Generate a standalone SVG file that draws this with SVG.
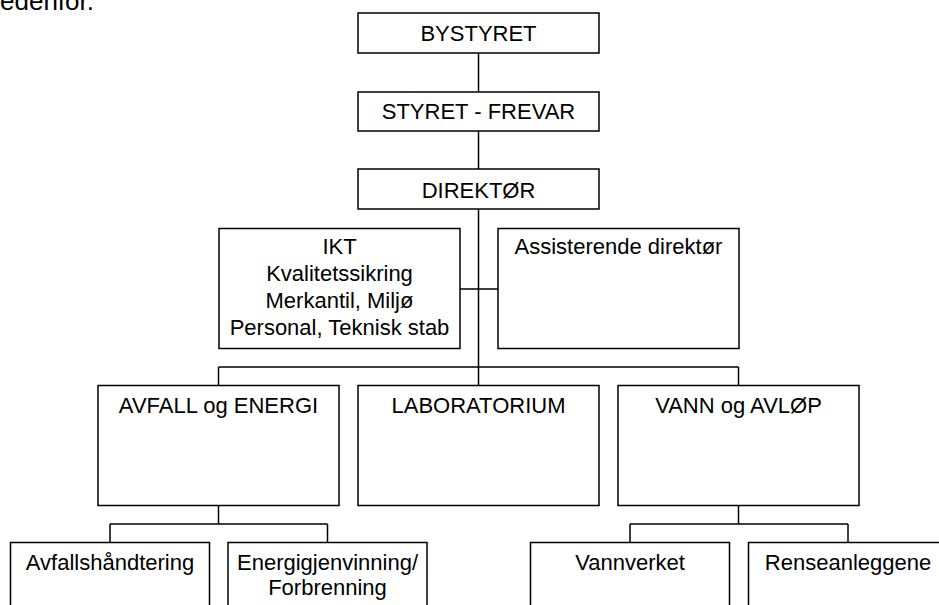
<svg xmlns="http://www.w3.org/2000/svg" width="939" height="605" viewBox="0 0 939 605">
<style>
.box{fill:#fff;stroke:#000;stroke-width:1.5}
.conn line{stroke:#000;stroke-width:1.5}
text{font-family:"Liberation Sans",Arial,sans-serif;font-size:22px;fill:#000;text-anchor:middle}
</style>
<rect width="939" height="605" fill="#fff"/>
<text x="0" y="10" style="font-size:26px;text-anchor:start">edenfor.</text>
<g id="connectors" class="conn">
<line x1="478.5" y1="53" x2="478.5" y2="92"/>
<line x1="478.5" y1="131" x2="478.5" y2="169"/>
<line x1="478.5" y1="209" x2="478.5" y2="367"/>
<line x1="460" y1="289" x2="498" y2="289"/>
<line x1="218.5" y1="367" x2="738.5" y2="367"/>
<line x1="218.5" y1="367" x2="218.5" y2="385.5"/>
<line x1="478.5" y1="367" x2="478.5" y2="385.5"/>
<line x1="738.5" y1="367" x2="738.5" y2="385.5"/>
<line x1="218.5" y1="505.5" x2="218.5" y2="524"/>
<line x1="110" y1="524" x2="327.5" y2="524"/>
<line x1="110" y1="524" x2="110" y2="542.5"/>
<line x1="327.5" y1="524" x2="327.5" y2="542.5"/>
<line x1="738.5" y1="505.5" x2="738.5" y2="524"/>
<line x1="630" y1="524" x2="848" y2="524"/>
<line x1="630" y1="524" x2="630" y2="542.5"/>
<line x1="848" y1="524" x2="848" y2="542.5"/>
</g>
<g id="bystyret"><rect class="box" x="358" y="13" width="241" height="40"/><text x="478.5" y="41">BYSTYRET</text></g>
<g id="styret"><rect class="box" x="358" y="92" width="241" height="39"/><text x="478.5" y="119">STYRET - FREVAR</text></g>
<g id="direktor"><rect class="box" x="358" y="169" width="241" height="40"/><text x="478.5" y="197.5">DIREKTØR</text></g>
<g id="stab"><rect class="box" x="219" y="228.5" width="241" height="120"/>
<text x="339.5" y="254">IKT</text>
<text x="339.5" y="281">Kvalitetssikring</text>
<text x="339.5" y="308">Merkantil, Miljø</text>
<text x="339.5" y="335">Personal, Teknisk stab</text></g>
<g id="assisterende"><rect class="box" x="498" y="228.5" width="241" height="120"/><text x="618.5" y="254">Assisterende direktør</text></g>
<g id="avfall"><rect class="box" x="98" y="385.5" width="241" height="120"/><text x="218.5" y="413">AVFALL og ENERGI</text></g>
<g id="lab"><rect class="box" x="358" y="385.5" width="241" height="120"/><text x="478.5" y="413">LABORATORIUM</text></g>
<g id="vann"><rect class="box" x="618" y="385.5" width="241" height="120"/><text x="738.5" y="413">VANN og AVLØP</text></g>
<g id="avfallshandtering"><rect class="box" x="10.5" y="542.5" width="199" height="80"/><text x="110" y="570">Avfallshåndtering</text></g>
<g id="energi"><rect class="box" x="228" y="542.5" width="199" height="80"/><text x="327.5" y="570">Energigjenvinning/</text><text x="327.5" y="595">Forbrenning</text></g>
<g id="vannverket"><rect class="box" x="530.5" y="542.5" width="199" height="80"/><text x="630" y="570">Vannverket</text></g>
<g id="renseanleggene"><rect class="box" x="748.5" y="542.5" width="199" height="80"/><text x="848" y="570">Renseanleggene</text></g>
</svg>
